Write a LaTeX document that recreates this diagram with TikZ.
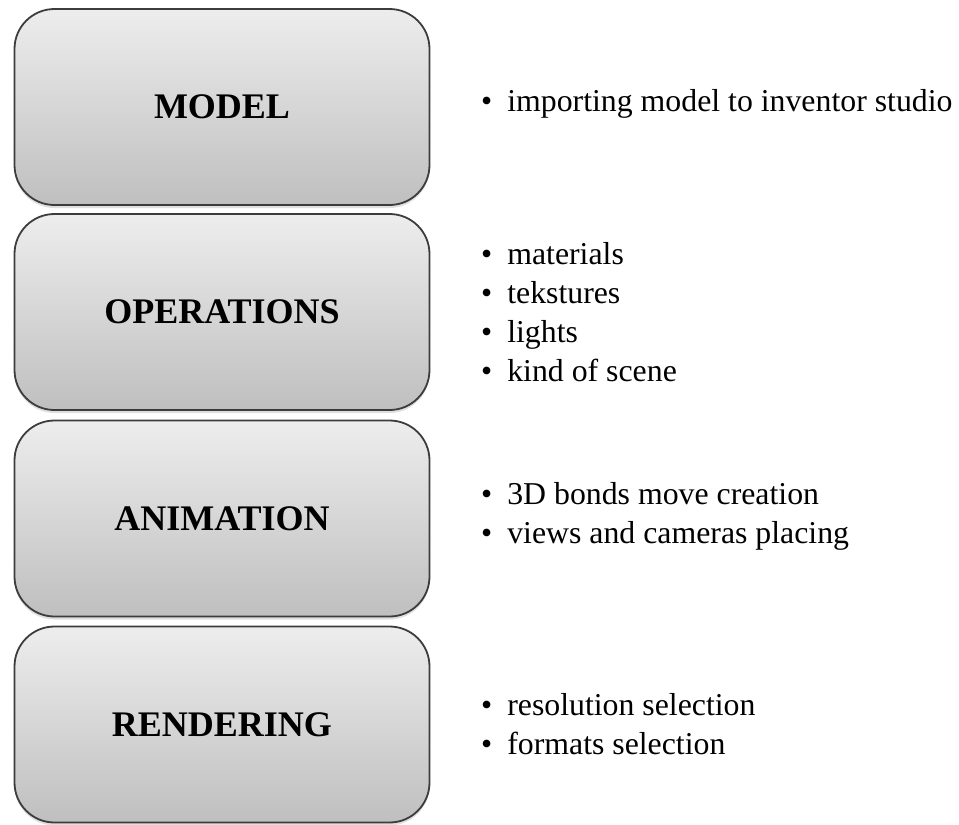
\documentclass[tikz,border=0pt]{standalone}
\usepackage{fontspec}
\setmainfont{Liberation Serif}
\usetikzlibrary{shadows}
\definecolor{boxtop}{HTML}{EDEDED}
\definecolor{boxbot}{HTML}{BFBFBF}
\definecolor{boxline}{HTML}{3C3C3C}
\newcommand{\itm}{\textbullet\hspace{15pt}}
\begin{document}
\begin{tikzpicture}[x=1pt,y=-1pt,
  stage/.style={draw=boxline, line width=1.8pt, rounded corners=40pt,
    top color=boxtop, bottom color=boxbot,
    minimum width=415pt, minimum height=196pt, inner sep=0pt,
    font=\fontsize{36}{42}\selectfont\bfseries,
    drop shadow={opacity=0.25, shadow xshift=0pt, shadow yshift=-3pt}},
  items/.style={anchor=west, align=left, inner sep=0pt,
    font=\fontsize{31.8}{39}\selectfont}]
  \useasboundingbox (0,0) rectangle (959,825);
  \node[stage] (model)      at (222,107) {MODEL};
  \node[stage] (operations) at (222,312) {OPERATIONS};
  \node[stage] (animation)  at (222,518.5) {ANIMATION};
  \node[stage] (rendering)  at (222,724.5) {RENDERING};
  \node[items] (modelitems) at (481,104)
    {\itm importing model to inventor studio};
  \node[items] (operationitems) at (481,312)
    {\itm materials\\
     \itm tekstures\\
     \itm lights\\
     \itm kind of scene};
  \node[items] (animationitems) at (481,516)
    {\itm 3D bonds move creation\\
     \itm views and cameras placing};
  \node[items] (renderingitems) at (481,724)
    {\itm resolution selection\\
     \itm formats selection};
\end{tikzpicture}
\end{document}
